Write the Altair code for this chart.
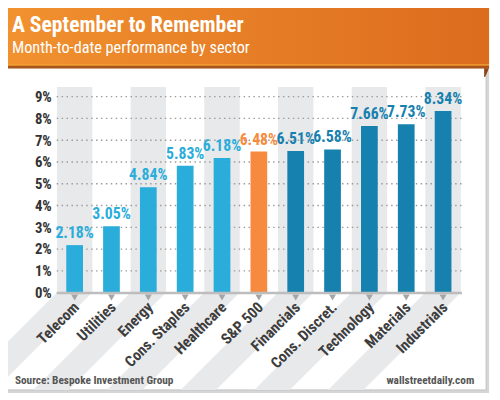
import altair as alt
import pandas as pd

# ---------------- data ----------------
sectors = ["Telecom", "Utilities", "Energy", "Cons. Staples", "Healthcare", "S&P 500",
           "Financials", "Cons. Discret.", "Technology", "Materials", "Industrials"]
values = [2.18, 3.05, 4.84, 5.83, 6.18, 6.48, 6.51, 6.58, 7.66, 7.73, 8.34]
tones = ["light"] * 5 + ["orange"] + ["dark"] * 5
tick_values = [0, 1, 2, 3, 4, 5, 6, 7, 8, 9]
grid_levels = [1, 2, 3, 4, 5, 6, 7, 8, 9]
title_text = "A September to Remember"
subtitle_text = "Month-to-date performance by sector"
source_text = "Source: Bespoke Investment Group"
site_text = "wallstreetdaily.com"

# ---------------- layout / style ----------------
W, H = 412, 209
YMAX = 9.45
STEP = W / len(sectors)
BAND_W = 36
FONT = "'Roboto Condensed', 'Liberation Sans Narrow', 'DejaVu Sans Condensed', sans-serif"
TONE_DOMAIN = ["light", "orange", "dark"]
TONE_RANGE = ["#2aadda", "#f68b40", "#1680ae"]

df = pd.DataFrame({
    "sector": sectors,
    "value": values,
    "tone": tones,
    "label": [f"{v:.2f}%" for v in values],
})
shaded = df.iloc[::2].copy()

# diagonal stripes below the axis, continuing the shaded bands
ytop, ybot = H, 308
D = ybot - ytop
rows = []
for i in range(0, len(sectors), 2):
    c = (i + 0.5) * STEP
    rows.append({"s": i, "py": ytop, "xl": c - BAND_W / 2, "xr": c + BAND_W / 2})
    rows.append({"s": i, "py": ybot, "xl": c - BAND_W / 2 - D, "xr": c + BAND_W / 2 - D})
stripes = pd.DataFrame(rows)

fold = pd.DataFrame({"py": [-19, -10], "xl": [435, 435], "xr": [440, 436]})

x_enc = alt.X(
    "sector:N", sort=sectors,
    scale=alt.Scale(paddingInner=0, paddingOuter=0),
    axis=alt.Axis(title=None, labelAngle=-45, labelAlign="right", labelBaseline="middle",
                  labelPadding=12, labelOffset=2, ticks=False, domainColor="#bdbdbd",
                  domainWidth=2.5, labelFont=FONT, labelFontWeight="bold", labelFontSize=15.5,
                  labelColor="#3d3d3d", zindex=1),
)
y_scale = alt.Scale(domain=[0, YMAX], nice=False, zero=True)
y_axis = alt.Axis(title=None, values=tick_values, labelExpr="datum.value + '%'", ticks=False,
                  domain=False, grid=False, labelPadding=5, labelFont=FONT, labelFontSize=15,
                  labelFontWeight="bold", labelColor="#333333", labelFlush=False, zindex=1)
y_enc = alt.Y("value:Q", scale=y_scale, axis=y_axis)

one = pd.DataFrame({"k": [0]})

shadow = alt.Chart(one).mark_rect(color="#d6d6d6").encode(
    x=alt.value(-50), x2=alt.value(440), y=alt.value(-17), y2=alt.value(311))
card = alt.Chart(one).mark_rect(color="white", stroke="#c2c2c2", strokeWidth=1).encode(
    x=alt.value(-52), x2=alt.value(437), y=alt.value(-19), y2=alt.value(308))
header = alt.Chart(one).mark_rect(
    color=alt.Gradient(gradient="linear",
                       stops=[alt.GradientStop(color="#f1922f", offset=0),
                              alt.GradientStop(color="#dc6b1e", offset=1)],
                       x1=0, x2=1, y1=0, y2=0)
).encode(x=alt.value(-57), x2=alt.value(440), y=alt.value(-85), y2=alt.value(-19))
header_glow = alt.Chart(one).mark_rect(color="#f2a233").encode(
    x=alt.value(-57), x2=alt.value(440), y=alt.value(-23), y2=alt.value(-21.5))
header_edge = alt.Chart(one).mark_rect(color="#a9541c").encode(
    x=alt.value(-57), x2=alt.value(440), y=alt.value(-21.5), y2=alt.value(-19))
fold_layer = alt.Chart(fold).mark_area(orient="horizontal", color="#8e4616").encode(
    y=alt.Y("py:Q", scale=None, axis=None),
    x=alt.X("xl:Q", scale=None, axis=None),
    x2="xr:Q")

stripe_layer = alt.Chart(stripes).mark_area(orient="horizontal", color="#e8e9eb").encode(
    y=alt.Y("py:Q", scale=None, axis=None),
    x=alt.X("xl:Q", scale=None, axis=None),
    x2="xr:Q",
    detail="s:N")

bands = alt.Chart(shaded).mark_bar(size=BAND_W, color="#e8e9eb").encode(
    x=x_enc, y=alt.datum(YMAX, scale=y_scale, axis=y_axis), y2=alt.datum(0))

grid = alt.Chart(pd.DataFrame({"g": grid_levels})).mark_rule(
    color="#9c9c9c", strokeDash=[1.5, 3.5], strokeWidth=1.3).encode(
    y=alt.Y("g:Q", scale=y_scale, axis=y_axis))

bars = alt.Chart(df).mark_bar(size=17).encode(
    x=x_enc, y=y_enc,
    color=alt.Color("tone:N", scale=alt.Scale(domain=TONE_DOMAIN, range=TONE_RANGE), legend=None))

markers = alt.Chart(df).mark_point(shape="triangle-down", filled=True, size=50,
                                   color="#a5a5a5", opacity=1, yOffset=5).encode(
    x=x_enc, y=alt.datum(0, scale=y_scale, axis=y_axis))

value_labels = alt.Chart(df).mark_text(font=FONT, fontSize=16, fontWeight="bold",
                                       baseline="alphabetic", dy=-7).encode(
    x=x_enc, y=y_enc, text="label:N",
    color=alt.Color("tone:N", scale=alt.Scale(domain=TONE_DOMAIN, range=TONE_RANGE), legend=None))

def text_layer(txt, x, y, size, weight, color, align="left"):
    return alt.Chart(pd.DataFrame({"t": [txt]})).mark_text(
        font=FONT, fontSize=size, fontWeight=weight, color=color, align=align,
        baseline="alphabetic").encode(x=alt.value(x), y=alt.value(y), text="t:N")

title_l = text_layer(title_text, -45, -56, 22, "bold", "white")
subtitle_l = text_layer(subtitle_text, -45, -35, 16.5, "normal", "white")
source_l = text_layer(source_text, -42, 302, 11.5, "bold", "#555555")
site_l = text_layer(site_text, 425, 302, 11.5, "bold", "#555555", align="right")

chart = alt.layer(
    shadow, card, header, header_glow, header_edge, fold_layer, stripe_layer, bands, grid,
    bars, markers, value_labels, title_l, subtitle_l, source_l, site_l
).properties(
    width=W, height=H,
    autosize=alt.AutoSizeParams(type="none"),
    padding={"left": 49, "top": 77, "right": 31, "bottom": 106},
    background="white",
).configure_view(stroke=None)

chart.save("out.html", embed_options={"renderer": "svg", "actions": False})
